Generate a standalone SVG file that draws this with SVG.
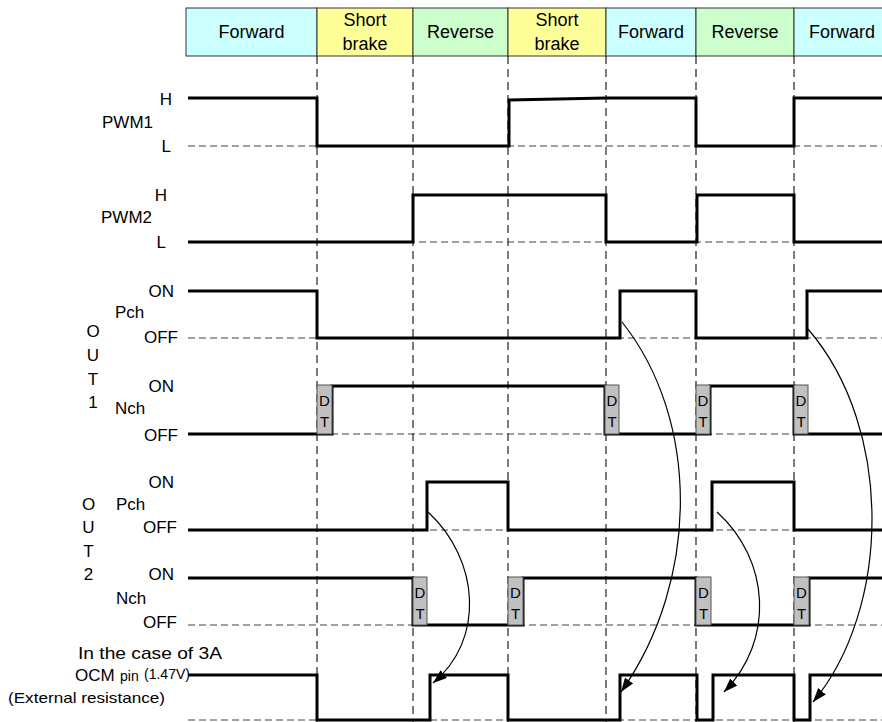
<svg xmlns="http://www.w3.org/2000/svg" width="882" height="722" viewBox="0 0 882 722">
<style>
text{font-family:"Liberation Sans","Noto Sans",Arial,sans-serif;font-size:17px;fill:#000}
.hdr{stroke:#333;stroke-width:1}
.ht{font-size:18px}
.fwd{fill:#ccffff}.brk{fill:#ffff99}.rev{fill:#ccffcc}
.c{text-anchor:middle}.e{text-anchor:end}
.sig{fill:none;stroke:#000;stroke-width:3;stroke-linejoin:miter;stroke-linecap:butt}
.vd{stroke:#222;stroke-width:1.2;stroke-dasharray:8,5;fill:none}
.hd{stroke:#444;stroke-width:1.2;stroke-dasharray:7,4;fill:none}
.dt{fill:#c0c0c0;stroke:#555;stroke-width:1}
.dtt{font-size:15px;text-anchor:middle}
.arr{fill:none;stroke:#000;stroke-width:1.2}
</style>
<defs>
<marker id="ah" markerUnits="userSpaceOnUse" markerWidth="14" markerHeight="10" viewBox="0 0 14 10" refX="14" refY="5" orient="auto">
<path d="M0,0 L14,5 L0,10 z" fill="#000"/>
</marker>
</defs>
<rect width="882" height="722" fill="#fff"/>

<g id="header">
<g id="h1"><rect class="hdr fwd" x="186" y="8" width="131" height="48"/><text class="c ht" x="251.5" y="38">Forward</text></g>
<g id="h2"><rect class="hdr brk" x="317" y="8" width="96" height="48"/><text class="c ht" x="365" y="26">Short</text><text class="c ht" x="365" y="49.5">brake</text></g>
<g id="h3"><rect class="hdr rev" x="413" y="8" width="95" height="48"/><text class="c ht" x="460.5" y="38">Reverse</text></g>
<g id="h4"><rect class="hdr brk" x="508" y="8" width="98" height="48"/><text class="c ht" x="557" y="26">Short</text><text class="c ht" x="557" y="49.5">brake</text></g>
<g id="h5"><rect class="hdr fwd" x="606" y="8" width="90" height="48"/><text class="c ht" x="651" y="38">Forward</text></g>
<g id="h6"><rect class="hdr rev" x="696" y="8" width="98" height="48"/><text class="c ht" x="745" y="38">Reverse</text></g>
<g id="h7"><rect class="hdr fwd" x="794" y="8" width="100" height="48"/><text class="c ht" x="842" y="38">Forward</text></g>
</g>

<g id="grid">
<path class="vd" d="M317,56V722M413,56V722M508,56V722M606,56V722M696,56V722M794,56V722"/>
<path class="hd" d="M188,146H882M188,242H882M188,338H882M188,434H882M188,530H882M188,625H882M188,720H882"/>
</g>

<g id="labels">
<text class="e" x="172" y="105">H</text>
<text class="e" x="153" y="128">PWM1</text>
<text class="e" x="171" y="152">L</text>
<text class="e" x="167" y="201">H</text>
<text class="e" x="152" y="223">PWM2</text>
<text class="e" x="166" y="248">L</text>
<text class="c" x="93" y="337">O</text>
<text class="c" x="93" y="361">U</text>
<text class="c" x="93" y="385">T</text>
<text class="c" x="93" y="408">1</text>
<text class="e" x="174" y="297">ON</text>
<text x="115" y="318">Pch</text>
<text class="e" x="178" y="343">OFF</text>
<text class="e" x="174" y="392">ON</text>
<text x="115" y="414">Nch</text>
<text class="e" x="178" y="441">OFF</text>
<text class="c" x="88.5" y="510">O</text>
<text class="c" x="88.5" y="533">U</text>
<text class="c" x="88.5" y="557">T</text>
<text class="c" x="88.5" y="580">2</text>
<text class="e" x="174" y="488">ON</text>
<text x="116" y="510">Pch</text>
<text class="e" x="177" y="533">OFF</text>
<text class="e" x="174" y="580">ON</text>
<text x="116" y="604">Nch</text>
<text class="e" x="177" y="628">OFF</text>
<text x="78" y="659" textLength="144" lengthAdjust="spacingAndGlyphs">In the case of 3A</text>
<text x="75" y="681">OCM</text>
<text x="120" y="681" style="font-size:14px">pin</text>
<text x="144" y="679" style="font-size:14px" textLength="46" lengthAdjust="spacingAndGlyphs">(1.47V)</text>
<text x="8" y="703" style="font-size:15px" textLength="157" lengthAdjust="spacingAndGlyphs">(External resistance)</text>
</g>

<g id="pwm1"><path class="sig" d="M188,98H317V146H509V100L606,98H696V146H794V98H882"/></g>
<g id="pwm2"><path class="sig" d="M188,242H413V195H606V242H697V195H794V242H882"/></g>
<g id="out1-pch"><path class="sig" d="M188,291H317V338H620V291H696V338H807V291H882"/></g>
<g id="out1-nch">
<path class="sig" d="M188,434H332V386H605V434H710V386H794V434H882"/>
<rect class="dt" x="317" y="385" width="15" height="49"/><text class="dtt" x="324.5" y="406">D</text><text class="dtt" x="324.5" y="427">T</text>
<rect class="dt" x="605" y="385" width="14" height="49"/><text class="dtt" x="612" y="406">D</text><text class="dtt" x="612" y="427">T</text>
<rect class="dt" x="696" y="385" width="14" height="49"/><text class="dtt" x="703" y="406">D</text><text class="dtt" x="703" y="427">T</text>
<rect class="dt" x="794" y="385" width="14" height="49"/><text class="dtt" x="801" y="406">D</text><text class="dtt" x="801" y="427">T</text>
</g>
<g id="out2-pch"><path class="sig" d="M188,530H427V482H508V530H712V482H794V530H882"/></g>
<g id="out2-nch">
<path class="sig" d="M188,578H413V625H523V578H696V625H809V578H882"/>
<rect class="dt" x="413" y="577" width="14" height="48"/><text class="dtt" x="420" y="598">D</text><text class="dtt" x="420" y="619">T</text>
<rect class="dt" x="508" y="577" width="15" height="48"/><text class="dtt" x="515.5" y="598">D</text><text class="dtt" x="515.5" y="619">T</text>
<rect class="dt" x="696" y="577" width="15" height="48"/><text class="dtt" x="703.5" y="598">D</text><text class="dtt" x="703.5" y="619">T</text>
<rect class="dt" x="794" y="577" width="15" height="48"/><text class="dtt" x="801.5" y="598">D</text><text class="dtt" x="801.5" y="619">T</text>
</g>
<g id="ocm"><path class="sig" d="M188,675H317V720H430V675H508V720H620V675H697V720H713V675H794V720H810V675H882"/></g>

<g id="connectors">
<path class="arr" marker-end="url(#ah)" d="M428,512C480,560 485,640 433,683"/>
<path class="arr" marker-end="url(#ah)" d="M622,322C700,420 700,580 621,692"/>
<path class="arr" marker-end="url(#ah)" d="M717,512C770,560 775,640 724,692"/>
<path class="arr" marker-end="url(#ah)" d="M808,329C895,430 890,610 813,702"/>
</g>
</svg>
